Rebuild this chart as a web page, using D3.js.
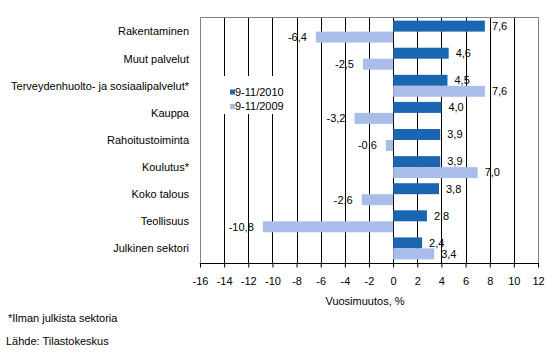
<!DOCTYPE html>
<html>
<head>
<meta charset="utf-8">
<script src="https://cdn.jsdelivr.net/npm/d3@7"></script>
<style>
  html, body { margin: 0; padding: 0; background: #fff; }
  svg text { font-family: "Liberation Sans", Arial, sans-serif; font-size: 11px; fill: #000; }
</style>
</head>
<body>
<svg id="chart" width="554" height="357"></svg>
<script>
const categories = ["Rakentaminen", "Muut palvelut", "Terveydenhuolto- ja sosiaalipalvelut*", "Kauppa", "Rahoitustoiminta", "Koulutus*", "Koko talous", "Teollisuus", "Julkinen sektori"];
const seriesNames = ["9-11/2010", "9-11/2009"];
const values2010 = [7.6, 4.6, 4.5, 4.0, 3.9, 3.9, 3.8, 2.8, 2.4];
const values2009 = [-6.4, -2.5, 7.6, -3.2, -0.6, 7.0, -2.6, -10.8, 3.4];
const tickValues = [-16, -14, -12, -10, -8, -6, -4, -2, 0, 2, 4, 6, 8, 10, 12];
const colors = ["#1B66B0", "#A8BDE9"];
const axisTitle = "Vuosimuutos, %";
const footnote = "*Ilman julkista sektoria";
const source = "Lähde: Tilastokeskus";

const svg = d3.select("#chart");
const L = 200, R = 538, T = 17, B = 263;

const x = d3.scaleLinear().domain([-16, 12]).range([L, R]);
const y0 = d3.scaleBand().domain(categories).range([T, B]).paddingInner(0.19).paddingOuter(0.134);
const y1 = d3.scaleBand().domain(seriesNames).range([0, y0.bandwidth()]);
const fmt = v => String(v.toFixed(1)).replace(".", ",");

// gridlines
svg.append("g").selectAll("line").data(tickValues.filter(t => t > -16 && t < 12)).join("line")
  .attr("x1", d => Math.round(x(d)) + 0.5).attr("x2", d => Math.round(x(d)) + 0.5)
  .attr("y1", T).attr("y2", B)
  .attr("stroke", "#000").attr("stroke-width", 1);

// plot border (left, top, right)
svg.append("path")
  .attr("d", `M${L + 0.5},${B} V${T + 0.5} H${R + 0.5} V${B}`)
  .attr("fill", "none").attr("stroke", "#808080").attr("stroke-width", 1);

// legend (white box hides gridlines)
const lg = svg.append("g");
lg.append("rect").attr("x", 221).attr("y", 76).attr("width", 68).attr("height", 38).attr("fill", "#fff");
seriesNames.forEach((s, i) => {
  const cy = 92 + i * 14.5;
  lg.append("rect").attr("x", 230).attr("y", cy - 2.5).attr("width", 5).attr("height", 5).attr("fill", colors[i]);
  lg.append("text").attr("x", 235).attr("y", cy).attr("dy", "0.35em").text(s);
});

// bars
const data = categories.map((c, i) => ({ c, vals: [values2010[i], values2009[i]] }));
const groups = svg.append("g").selectAll("g").data(data).join("g")
  .attr("transform", d => `translate(0,${y0(d.c)})`);
groups.selectAll("rect").data(d => d.vals.map((v, j) => ({ v, s: seriesNames[j], j }))).join("rect")
  .attr("x", d => x(Math.min(0, d.v)))
  .attr("width", d => Math.abs(x(d.v) - x(0)))
  .attr("y", d => y1(d.s))
  .attr("height", y1.bandwidth())
  .attr("fill", d => colors[d.j]);
groups.selectAll("text").data(d => d.vals.map((v, j) => ({ v, s: seriesNames[j], j }))).join("text")
  .attr("x", d => d.v >= 0 ? x(d.v) + 7 : x(d.v) - 9)
  .attr("y", d => y1(d.s) + y1.bandwidth() / 2)
  .attr("dy", "0.35em")
  .attr("text-anchor", d => d.v >= 0 ? "start" : "end")
  .text(d => fmt(d.v));

// category labels
svg.append("g").selectAll("text").data(categories).join("text")
  .attr("x", 189).attr("y", d => y0(d) + y0.bandwidth() / 2).attr("dy", "0.35em")
  .attr("text-anchor", "end").text(d => d);

// x axis
const xAxis = d3.axisBottom(x).tickValues(tickValues).tickSize(4).tickPadding(10).tickFormat(d => String(d));
const ax = svg.append("g").attr("transform", `translate(0,${B + 0.5})`).call(xAxis);
ax.select(".domain").attr("stroke", "#000").attr("d", `M${L},0.5V0H${R + 1}`);
ax.selectAll(".tick line").attr("stroke", "#000");
ax.selectAll(".tick text").style("font-family", '"Liberation Sans", Arial, sans-serif').style("font-size", "11px").attr("fill", "#000");

svg.append("text").attr("x", 365).attr("y", 301).attr("dy", "0.35em").attr("text-anchor", "middle").text(axisTitle);
svg.append("text").attr("x", 8).attr("y", 318).attr("dy", "0.35em").text(footnote);
svg.append("text").attr("x", 6).attr("y", 341).attr("dy", "0.35em").text(source);
</script>
</body>
</html>
